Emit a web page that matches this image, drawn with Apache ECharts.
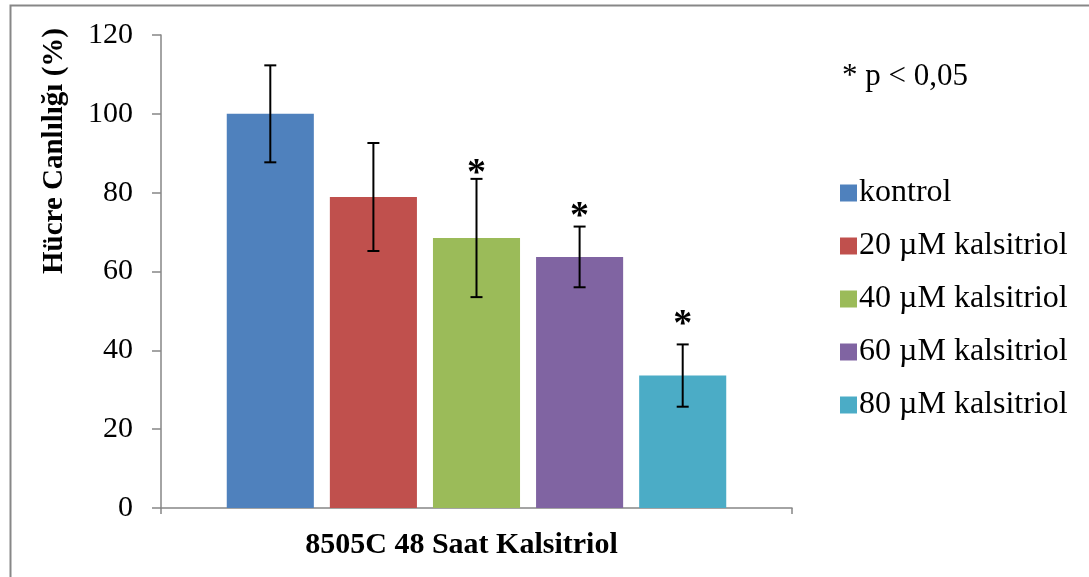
<!DOCTYPE html>
<html>
<head>
<meta charset="utf-8">
<script src="https://cdn.jsdelivr.net/npm/echarts@6/dist/echarts.min.js"></script>
<style>
html,body{margin:0;padding:0;background:#fff;}
#chart{width:1089px;height:577px;}
</style>
</head>
<body>
<div id="chart"></div>
<script>
const categories = ['8505C 48 Saat Kalsitriol'];
const seriesNames = ['kontrol', '20 µM kalsitriol', '40 µM kalsitriol', '60 µM kalsitriol', '80 µM kalsitriol'];
const means = [100, 78.9, 68.5, 63.7, 33.6];
const errors = [12.3, 13.7, 15.0, 7.7, 7.9];
const starY = [null, null, 87.7, 76.7, 49.3];
const yTicks = [0, 20, 40, 60, 80, 100, 120];
const colors = ['#4F81BD', '#C0504D', '#9BBB59', '#8064A2', '#4BACC6'];

const BAR_RATIO = 0.138;   // bar width as share of category band
const GAP_RATIO = 0.184;   // gap between bars as share of bar width
const SERIF = '"Liberation Serif", "Times New Roman", serif';

const series = [];
seriesNames.forEach((name, i) => {
  series.push({
    name: name,
    type: 'bar',
    data: [means[i]],
    barWidth: (BAR_RATIO * 100) + '%',
    barGap: (GAP_RATIO * 100) + '%',
    itemStyle: { color: colors[i] },
    emphasis: { disabled: true },
    silent: true
  });
});

series.push({
  type: 'custom',
  silent: true,
  z: 10,
  data: means.map((m, i) => [0, m - errors[i], m + errors[i], i, starY[i] == null ? NaN : starY[i]]),
  renderItem: function (params, api) {
    const cat = api.value(0);
    const idx = api.value(3);
    const band = api.size([1, 0])[0];
    const bw = band * BAR_RATIO;
    const step = bw * (1 + GAP_RATIO);
    const n = seriesNames.length;
    const cx = api.coord([cat, 0])[0] + (idx - (n - 1) / 2) * step;
    const lo = api.coord([cat, api.value(1)])[1];
    const hi = api.coord([cat, api.value(2)])[1];
    const cap = 6;
    const st = { stroke: '#000', lineWidth: 2 };
    const children = [
      { type: 'line', shape: { x1: cx, y1: lo, x2: cx, y2: hi }, style: st },
      { type: 'line', shape: { x1: cx - cap, y1: lo, x2: cx + cap, y2: lo }, style: st },
      { type: 'line', shape: { x1: cx - cap, y1: hi, x2: cx + cap, y2: hi }, style: st }
    ];
    const sv = api.value(4);
    if (!isNaN(sv)) {
      const sy = api.coord([cat, sv])[1];
      children.push({
        type: 'text',
        style: {
          text: '*', x: cx, y: sy + 12, fill: '#000',
          font: 'bold 38px ' + SERIF, textAlign: 'center', textVerticalAlign: 'middle'
        }
      });
    }
    return { type: 'group', children: children };
  }
});

const chart = echarts.init(document.getElementById('chart'), null, { renderer: 'canvas' });
chart.setOption({
  animation: false,
  backgroundColor: '#fff',
  grid: { left: 161, right: 297, top: 35, bottom: 69, containLabel: false },
  legend: {
    orient: 'vertical',
    left: 835,
    top: 172,
    itemWidth: 17,
    itemHeight: 17,
    itemGap: 21,
    icon: 'rect',
    selectedMode: false,
    data: seriesNames,
    textStyle: { fontFamily: SERIF, fontSize: 32, color: '#000', lineHeight: 30, padding: [0, 0, 0, -3] }
  },
  xAxis: {
    type: 'category',
    data: categories,
    boundaryGap: true,
    axisLine: { lineStyle: { color: '#868686', width: 1.5 } },
    axisTick: { show: true, length: 6, lineStyle: { color: '#868686', width: 1.5 } },
    axisLabel: {
      fontFamily: SERIF, fontSize: 30, fontWeight: 'bold', color: '#000',
      margin: 22, padding: [0, 30, 0, 0]
    }
  },
  yAxis: {
    type: 'value',
    min: yTicks[0],
    max: yTicks[yTicks.length - 1],
    interval: yTicks[1] - yTicks[0],
    splitLine: { show: false },
    axisLine: { show: true, lineStyle: { color: '#868686', width: 1.5 } },
    axisTick: { show: true, length: 9, lineStyle: { color: '#868686', width: 1.5 } },
    axisLabel: { fontFamily: SERIF, fontSize: 30, color: '#000', margin: 28 }
  },
  graphic: [
    {
      type: 'rect', left: 8, top: 3, silent: true,
      shape: { width: 1200, height: 700 },
      style: { fill: 'none', stroke: '#878787', lineWidth: 2 }
    },
    {
      type: 'text', x: 55, y: 151, rotation: Math.PI / 2, silent: true,
      style: {
        text: 'Hücre Canlılığı (%)', fill: '#000',
        font: 'bold 29px ' + SERIF, textAlign: 'center', textVerticalAlign: 'middle'
      }
    },
    {
      type: 'text', x: 842, y: 77, silent: true,
      style: {
        text: '* p < 0,05', fill: '#000',
        font: '31px ' + SERIF, textAlign: 'left', textVerticalAlign: 'middle'
      }
    }
  ],
  series: series
});
</script>
</body>
</html>
